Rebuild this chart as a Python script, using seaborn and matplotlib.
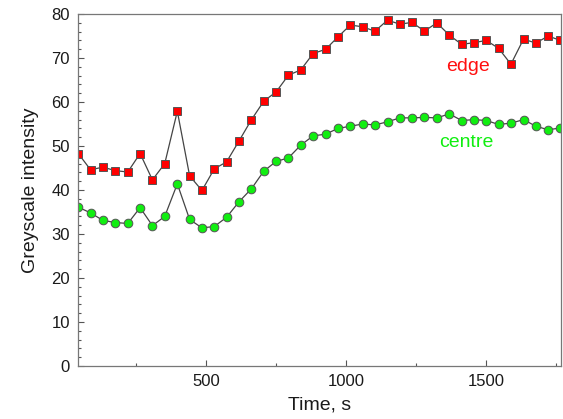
import numpy as np
import pandas as pd
import matplotlib
matplotlib.use("Agg")
import matplotlib.pyplot as plt
from matplotlib.ticker import MultipleLocator
import seaborn as sns

# Sampling times (s)
time_s = [43, 87, 131, 176, 220, 264, 308, 352, 397, 441,
          485, 529, 573, 617, 662, 706, 750, 794, 838, 882,
          927, 971, 1015, 1059, 1103, 1148, 1192, 1236, 1280, 1324,
          1369, 1413, 1457, 1501, 1545, 1589, 1634, 1678, 1722, 1766]

# Mean greyscale intensity at the edge of the sample
edge = [48.3, 44.6, 45.2, 44.4, 44.1, 48.3, 42.3, 46.0, 57.9, 43.2,
        39.9, 44.8, 46.4, 51.1, 56.0, 60.2, 62.3, 66.1, 67.3, 71.0,
        72.0, 74.8, 77.5, 77.1, 76.1, 78.6, 77.7, 78.1, 76.1, 78.0,
        75.2, 73.1, 73.5, 74.0, 72.2, 68.6, 74.3, 73.4, 75.0, 74.0]

# Mean greyscale intensity at the centre of the sample
centre = [36.1, 34.8, 33.1, 32.6, 32.4, 36.0, 31.9, 34.0, 41.4, 33.3,
          31.4, 31.7, 33.8, 37.3, 40.3, 44.3, 46.5, 47.3, 50.2, 52.3,
          52.7, 54.0, 54.5, 55.0, 54.8, 55.5, 56.4, 56.4, 56.5, 56.4,
          57.3, 55.8, 56.0, 55.8, 54.9, 55.2, 56.0, 54.5, 53.7, 54.1]

df = pd.DataFrame({"time": time_s, "edge": edge, "centre": centre})

sns.set_theme(style="ticks")
plt.rcParams["font.family"] = ["Liberation Sans", "DejaVu Sans"]

fig = plt.figure(figsize=(5.63, 4.19), dpi=100)
ax = fig.add_axes([0.139, 0.1265, 0.857, 0.840])

line_col = "#444444"
edge_col = "#555555"

sns.lineplot(data=df, x="time", y="edge", ax=ax, color=line_col, lw=0.9,
             marker="s", markersize=6.0, markerfacecolor="#ff0000",
             markeredgecolor=edge_col, markeredgewidth=0.7)
sns.lineplot(data=df, x="time", y="centre", ax=ax, color=line_col, lw=0.9,
             marker="o", markersize=6.2, markerfacecolor="#11ee11",
             markeredgecolor=edge_col, markeredgewidth=0.7)

ax.text(1437, 68.0, "edge", color="#ff1010", fontsize=14,
        ha="center", va="center")
ax.text(1428, 50.8, "centre", color="#11ee11", fontsize=14,
        ha="center", va="center")

ax.set_xlim(43, 1767)
ax.set_ylim(0, 80)
ax.xaxis.set_major_locator(MultipleLocator(500))
ax.xaxis.set_minor_locator(MultipleLocator(250))
ax.yaxis.set_major_locator(MultipleLocator(10))
ax.yaxis.set_minor_locator(MultipleLocator(2))
ax.tick_params(which="both", direction="in", colors="#555555",
               labelcolor="#1a1a1a", labelsize=12, width=0.8, pad=6)
ax.tick_params(which="major", length=4.5)
ax.tick_params(which="minor", length=2.5)
for s in ax.spines.values():
    s.set_color("#777777")
    s.set_linewidth(0.9)

ax.set_xlabel("Time, s", fontsize=14, color="#1a1a1a", labelpad=5)
ax.set_ylabel("Greyscale intensity", fontsize=14, color="#1a1a1a", labelpad=9)

fig.savefig("out.png", dpi=100)
